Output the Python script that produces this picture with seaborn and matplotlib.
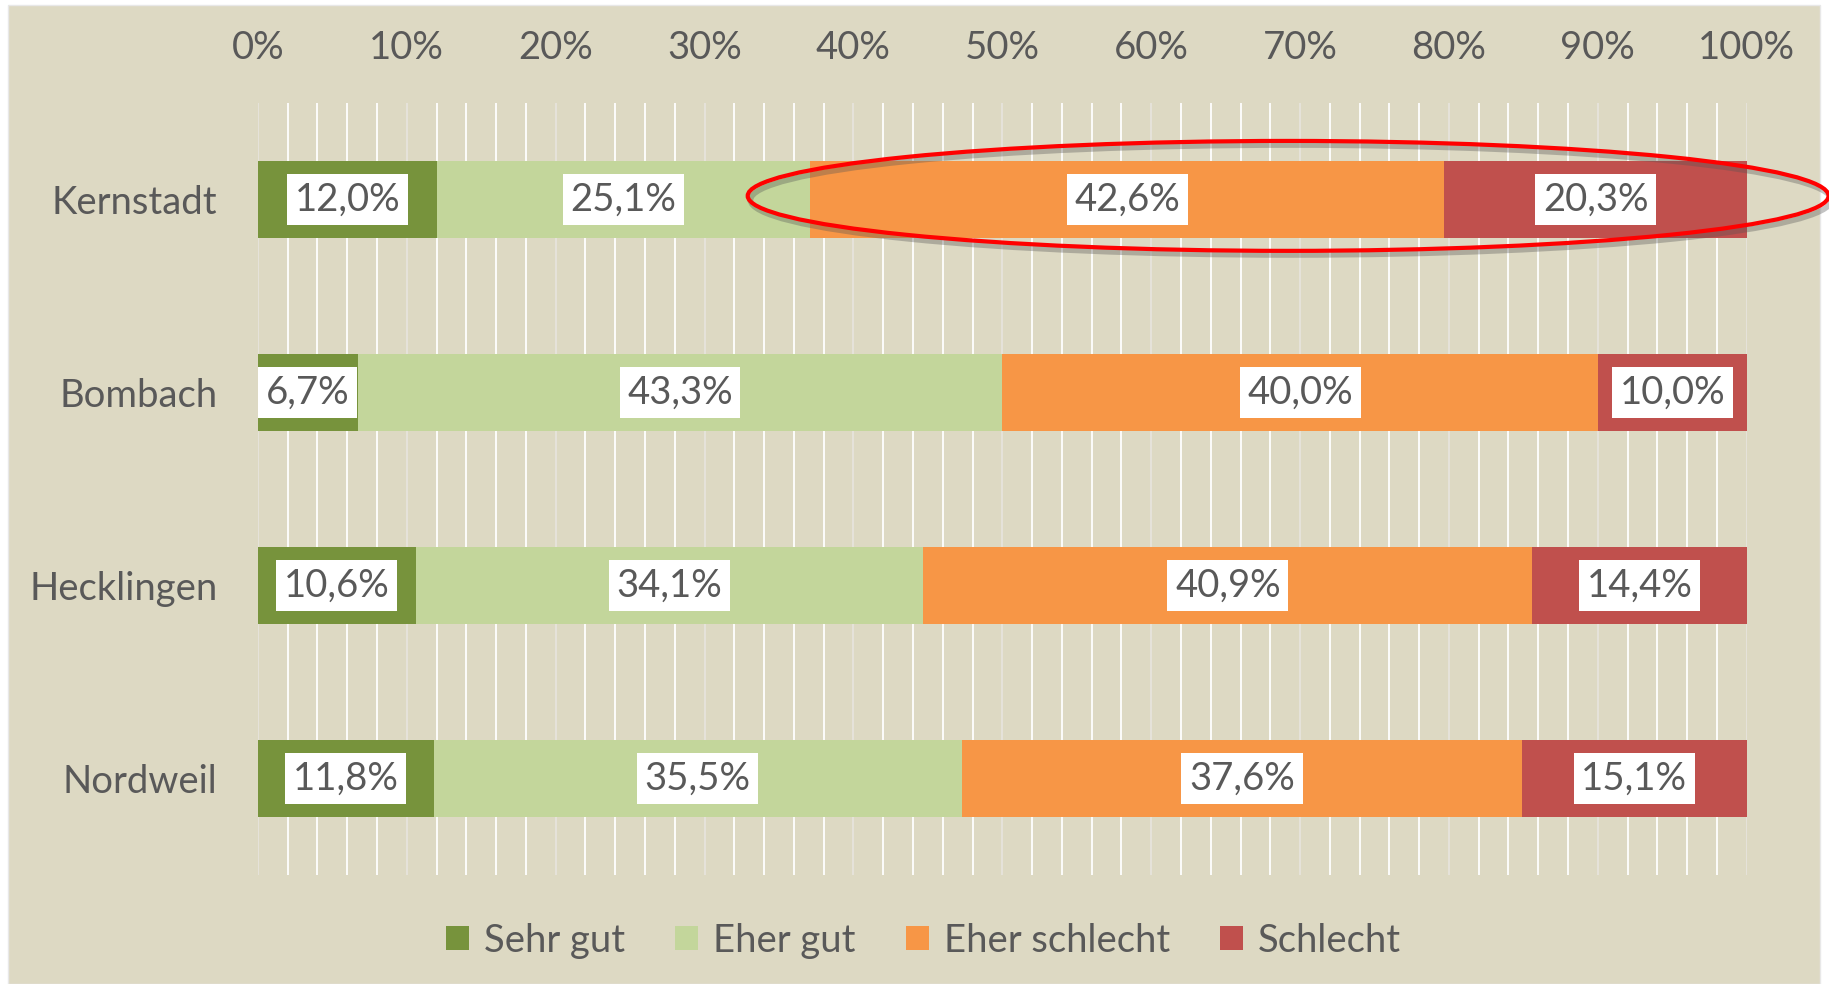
import numpy as np
import pandas as pd
import matplotlib.pyplot as plt
import matplotlib.patheffects as pe
from matplotlib.patches import Ellipse
import seaborn as sns

# Data
ORTE = ['Kernstadt', 'Bombach', 'Hecklingen', 'Nordweil']
KATEGORIEN = ['Sehr gut', 'Eher gut', 'Eher schlecht', 'Schlecht']
SEHR_GUT = [12.0, 6.7, 10.6, 11.8]
EHER_GUT = [25.1, 43.3, 34.1, 35.5]
EHER_SCHLECHT = [42.6, 40.0, 40.9, 37.6]
SCHLECHT = [20.3, 10.0, 14.4, 15.1]
FARBEN = ['#77933C', '#C3D69B', '#F79646', '#C0504D']
X_TICKS = list(range(0, 101, 10))

BG = '#DDD9C3'
TXT = '#595959'
FS = 27.5

sns.set_style('white')
plt.rcParams['font.family'] = ['Lato', 'DejaVu Sans']

df = pd.DataFrame({'Ort': ORTE, 'Sehr gut': SEHR_GUT, 'Eher gut': EHER_GUT,
                   'Eher schlecht': EHER_SCHLECHT, 'Schlecht': SCHLECHT})
werte = df[KATEGORIEN].to_numpy()
cum = werte.cumsum(axis=1)

fig = plt.figure(figsize=(18.29, 9.84), dpi=100)
fig.patch.set_facecolor('white')
# beige chart area
fig.patches.append(plt.Rectangle((8 / 1829, 0), 1812 / 1829, 1 - 5 / 984,
                                 transform=fig.transFigure, facecolor=BG,
                                 edgecolor='#E8E8E8', lw=1, zorder=-10))
ax = fig.add_axes([0.141, 0.111, 0.814, 0.784])
ax.set_facecolor(BG)
ax.patch.set_alpha(0)

# stacked bars: draw cumulative sums from the right end backwards
for k in range(len(KATEGORIEN) - 1, -1, -1):
    d = pd.DataFrame({'Ort': ORTE, 'wert': cum[:, k]})
    sns.barplot(data=d, x='wert', y='Ort', orient='h', color=FARBEN[k],
                width=0.4, saturation=1, ax=ax, zorder=3, label=KATEGORIEN[k],
                edgecolor='none', linewidth=0)

# data labels
for i in range(len(ORTE)):
    for k in range(len(KATEGORIEN)):
        mitte = cum[i, k] - werte[i, k] / 2
        ax.text(mitte, i, f'{werte[i, k]:.1f}%'.replace('.', ','),
                ha='center', va='center', fontsize=FS, color=TXT, zorder=5,
                bbox=dict(boxstyle='square,pad=0.2', fc='white', ec='none'))

ax.set_xlim(0, 100)
ax.set_ylim(3.5, -0.5)
ax.set_xticks(X_TICKS)
ax.set_xticklabels([f'{t}%' for t in X_TICKS])
ax.set_xticks(np.arange(0, 101, 2), minor=True)
ax.xaxis.tick_top()
ax.tick_params(axis='x', which='both', length=0, labelsize=FS, labelcolor=TXT, pad=27)
ax.tick_params(axis='y', length=0, labelsize=FS, labelcolor=TXT, pad=29)
ax.grid(axis='x', which='minor', color='white', lw=1.3, zorder=0)
ax.grid(axis='x', which='major', color='#E6E4DC', lw=1.3, zorder=0)
ax.set_axisbelow(True)
ax.set_xlabel('')
ax.set_ylabel('')
for s in ax.spines.values():
    s.set_visible(False)

# red ellipse around Kernstadt
ell = Ellipse((69.2, -0.02), 72.6, 0.57, fill=False, ec='#FF0000', lw=3,
              clip_on=False, zorder=6,
              path_effects=[pe.Stroke(offset=(2, -3), linewidth=4,
                                      foreground='#555555', alpha=0.35),
                            pe.Normal()])
ax.add_patch(ell)

# legend
handles, labels = ax.get_legend_handles_labels()
order = [labels.index(c) for c in KATEGORIEN]
ax.legend([handles[j] for j in order], KATEGORIEN, loc='center',
          bbox_to_anchor=(0.505, 0.044), bbox_transform=fig.transFigure,
          ncol=4, frameon=False, fontsize=FS, labelcolor=TXT,
          handlelength=0.6, handleheight=0.6, handletextpad=0.4,
          columnspacing=1.3)

fig.savefig('out.png', dpi=100, facecolor=fig.get_facecolor())
